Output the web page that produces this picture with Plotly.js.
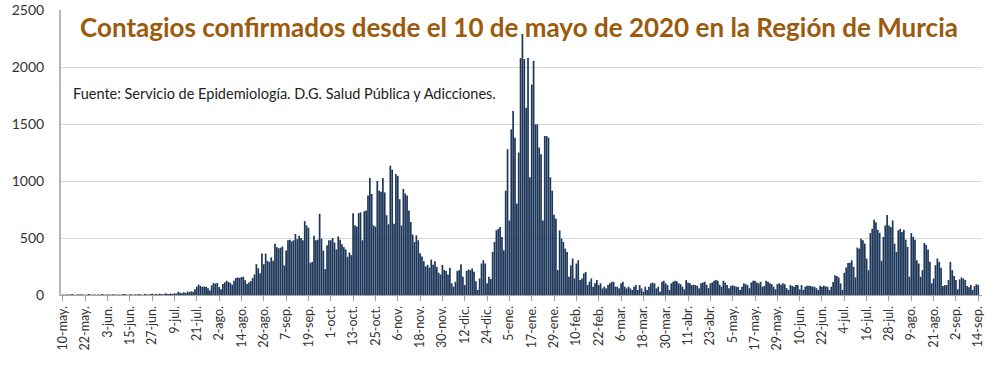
<!DOCTYPE html>
<html>
<head>
<meta charset="utf-8">
<script src="https://cdn.plot.ly/plotly-3.0.1.min.js"></script>
<style>html,body{margin:0;padding:0;background:#fff;}#chart{width:1000px;height:366px;}</style>
</head>
<body>
<div id="chart"></div>
<script>
// Daily confirmed cases, Región de Murcia, from 10 May 2020 to 14 Sep 2021
const may2020 = [4,2,6,3,5,8,2,3,6,4,7,3,2,5,9,4,3,6,2,5,3,8];
const jun2020 = [4,2,6,5,3,7,4,2,5,3,6,9,4,2,7,5,3,6,4,8,5,3,10,6,4,7,12,5,8,6];
const jul2020 = [11,9,5,14,10,8,13,9,16,12,28,20,15,24,18,30,26,32,28,50,73,91,80,70,75,73,60,40,85,105,100];
const aug2020 = [105,70,50,96,110,125,115,105,90,125,150,154,150,158,160,130,96,110,122,150,180,270,235,190,363,270,363,300,290,330,300];
const sep2020 = [450,420,410,415,425,258,390,480,485,470,480,535,490,520,500,480,648,610,590,282,290,520,480,485,712,494,390,227,436,480];
const oct2020 = [480,500,460,400,514,485,445,420,400,335,372,350,718,612,600,718,724,480,735,741,872,1026,886,610,600,1000,915,906,1026,900,700];
const nov2020 = [620,1134,1100,625,1061,1045,840,610,930,890,872,741,640,530,465,523,480,366,337,296,250,265,240,311,265,296,247,195,180,265];
const dec2020 = [220,210,180,238,102,73,116,212,218,270,160,87,212,224,218,233,203,120,44,145,276,305,276,102,160,140,378,465,567,580,596];
const jan2021 = [509,392,915,1279,654,1453,1613,1380,802,1250,2078,2290,2070,1642,2078,1032,1846,2055,1497,1497,1294,1235,654,1395,1395,1380,1032,915,705,668,218];
const feb2021 = [567,494,465,407,378,160,260,320,145,276,305,131,145,189,203,87,116,145,73,102,131,87,102,58,73,58,87,102];
const mar2021 = [116,116,73,73,58,102,116,73,58,73,58,44,73,87,44,87,58,29,73,44,73,102,108,102,58,73,29,116,125,102,87];
const apr2021 = [44,102,116,125,120,102,95,73,50,131,110,102,87,90,87,80,58,102,110,116,90,60,102,110,125,131,125,90,73,125];
const may2021 = [110,87,60,80,85,80,73,70,44,73,102,95,87,60,110,125,125,110,102,116,73,80,125,116,102,95,73,50,95,102,90];
const jun2021 = [102,95,60,44,87,80,73,87,87,49,87,44,73,81,81,78,73,73,60,44,81,73,81,75,73,44,73,115,174,166];
const jul2021 = [154,102,44,195,241,280,282,305,247,154,416,407,494,480,451,320,218,543,581,660,639,572,545,300,509,610,702,610,596,654,450];
const aug2021 = [378,567,581,552,572,485,422,160,543,510,485,305,276,160,218,456,440,400,291,102,145,262,320,291,240,78,87,87,131,291,218];
const sep2021 = [166,131,50,137,154,145,131,78,67,87,44,78,95,87];

// Tick labels, one every 12 days starting 10 May 2020
const tickLabels = ['10-may.','22-may.','3-jun.','15-jun.','27-jun.','9-jul.','21-jul.','2-ago.','14-ago.','26-ago.',
  '7-sep.','19-sep.','1-oct.','13-oct.','25-oct.','6-nov.','18-nov.','30-nov.','12-dic.','24-dic.',
  '5-ene.','17-ene.','29-ene.','10-feb.','22-feb.','6-mar.','18-mar.','30-mar.','11-abr.','23-abr.',
  '5-may.','17-may.','29-may.','10-jun.','22-jun.','4-jul.','16-jul.','28-jul.','9-ago.','21-ago.',
  '2-sep.','14-sep.'];
const tickStep = 12;

const titleText = 'Contagios confirmados desde el 10 de mayo de 2020 en la Región de Murcia';
const sourceText = 'Fuente: Servicio de Epidemiología. D.G. Salud Pública y Adicciones.';

const cases = [].concat(may2020, jun2020, jul2020, aug2020, sep2020, oct2020, nov2020, dec2020,
  jan2021, feb2021, mar2021, apr2021, may2021, jun2021, jul2021, aug2021, sep2021);
const days = cases.map((_, i) => i);
const tickVals = tickLabels.map((_, i) => i * tickStep);

const trace = {
  type: 'bar',
  x: days,
  y: cases,
  marker: {color: '#1d375a', line: {width: 0}},
  hoverinfo: 'y'
};

const layout = {
  width: 1000,
  height: 366,
  margin: {l: 61, r: 18, t: 10, b: 71},
  paper_bgcolor: '#ffffff',
  plot_bgcolor: '#ffffff',
  showlegend: false,
  bargap: 0.08,
  title: {
    text: '<b>' + titleText + '</b>',
    font: {family: 'Lato, sans-serif', size: 26, color: '#9c5a0c'},
    x: 0.519, xref: 'container', xanchor: 'center',
    y: 1 - 28 / 366, yref: 'container', yanchor: 'middle'
  },
  xaxis: {
    range: [-1, 494],
    tickmode: 'array',
    tickvals: tickVals,
    ticktext: tickLabels,
    tickangle: -90,
    ticks: 'outside',
    ticklen: 5,
    tickcolor: '#a0a0a0',
    showline: true,
    linecolor: '#a6a6a6',
    linewidth: 1,
    showgrid: false,
    zeroline: false,
    tickfont: {family: 'Lato, sans-serif', size: 12.5, color: '#333333'}
  },
  yaxis: {
    range: [0, 2500],
    dtick: 500,
    showgrid: true,
    gridcolor: '#d9d9d9',
    gridwidth: 1,
    showline: true,
    linecolor: '#b5b5b5',
    linewidth: 2,
    ticks: '',
    ticklabelstandoff: 12,
    zeroline: false,
    tickfont: {family: 'Lato, sans-serif', size: 14, color: '#333333'}
  },
  annotations: [{
    text: sourceText,
    xref: 'paper', yref: 'paper',
    x: 0.011, y: (295 - 93) / 285,
    xanchor: 'left', yanchor: 'middle',
    showarrow: false,
    font: {family: 'Lato, sans-serif', size: 14.5, color: '#222222'}
  }]
};

Plotly.newPlot('chart', [trace], layout, {displayModeBar: false, staticPlot: true});
</script>
</body>
</html>
